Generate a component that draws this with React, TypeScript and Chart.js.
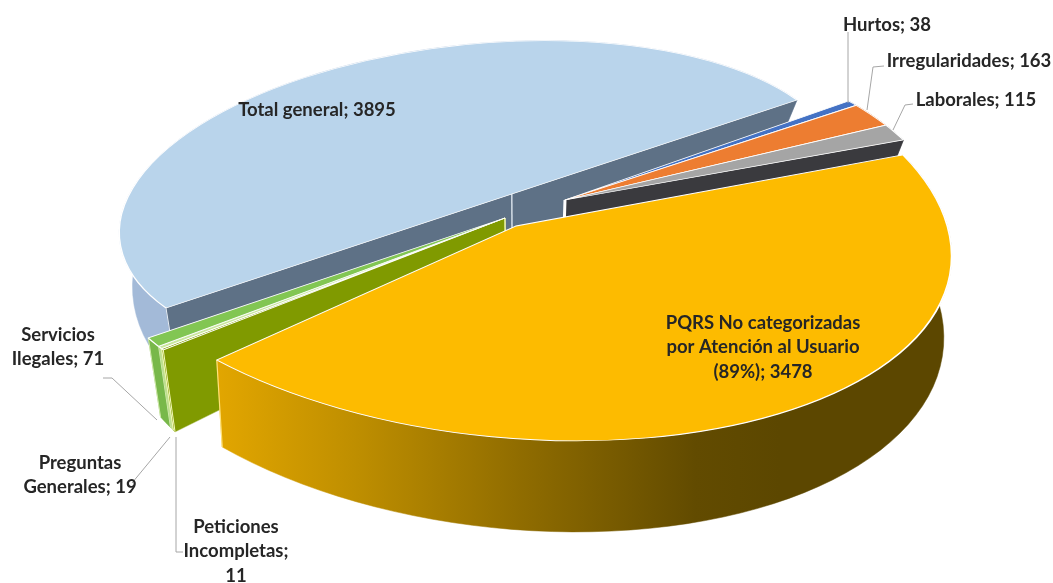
import React, { useEffect, useRef } from "react";
import { Chart, registerables } from "chart.js";

Chart.register(...registerables);

const categories = [
  "Total general",
  "Hurtos",
  "Irregularidades",
  "Laborales",
  "PQRS No categorizadas por Atención al Usuario (89%)",
  "Peticiones Incompletas",
  "Preguntas Generales",
  "Servicios Ilegales",
];
const values = [3895, 38, 163, 115, 3478, 11, 19, 71];
const topColors = ["#B9D4EB", "#4472C4", "#ED7D31", "#A5A5A5", "#FDBB00", "#85A000", "#C9E79C", "#82C653"];
const wallColors = ["#A3BAD8", "#2F5597", "#B85F20", "#7C7C7C", "gradient", "#7F9A00", "#BFE08E", "#78B84A"];
const edgeColors = ["#E6EDF5", "#FFFFFF", "#FFFFFF", "#FFFFFF", "#FFE27A", "#F3F8B8", "#F3F8B8", "#CFE8A8"];

// Each exploded group of slices has its own projected frame (apex, radial and tangent axes).
const frames = [
  { slices: [0], apex: [481.5, 204], radial: [-178, -126], tangent: [315.5, -104], depth: [22, 0.24, 100], lean: 0.033 },
  { slices: [1, 2, 3], apex: [565, 200], radial: [313.5, -80.2], tangent: [216.5, 153.5], depth: [22, 0.24, 100], lean: 0.033 },
  { slices: [5, 6, 7], apex: [505, 218], radial: [-349.5, 126], tangent: [-184, -147], depth: [22, 0.24, 100], lean: 0.033 },
  { slices: [4], apex: [516, 226], radial: [262, 188], tangent: [-348, 104], depth: [87, 0.05, 360], lean: 0.018 },
];

const textBlocks = [
  { lines: ["Hurtos; 38"], x: 887, y: 25 },
  { lines: ["Irregularidades; 163"], x: 969, y: 61 },
  { lines: ["Laborales; 115"], x: 976, y: 100 },
  { lines: ["Total general; 3895"], x: 317, y: 110 },
  { lines: ["PQRS No categorizadas", "por Atención al Usuario", "(89%); 3478"], x: 763, y: 323 },
  { lines: ["Servicios", "Ilegales; 71"], x: 58, y: 335 },
  { lines: ["Preguntas", "Generales; 19"], x: 80, y: 463 },
  { lines: ["Peticiones", "Incompletas;", "11"], x: 236, y: 527 },
];
const leaders = [
  [[848, 32], [848, 103]],
  [[884, 66], [873, 67], [867, 110]],
  [[913, 104], [905, 105], [893, 130]],
  [[103, 378], [112, 378], [157, 420]],
  [[132, 483], [170, 437]],
  [[183, 552], [176, 552], [176, 437]],
];

type P = [number, number];

const pie3d = {
  id: "pie3d",
  beforeDatasetDraw(chart: any) {
    const ctx: CanvasRenderingContext2D = chart.ctx;
    const arcs = chart.getDatasetMeta(0).data;
    const grad = ctx.createLinearGradient(217, 0, 780, 0);
    grad.addColorStop(0, "#E2A600");
    grad.addColorStop(0.25, "#BE8E00");
    grad.addColorStop(0.55, "#8E6B00");
    grad.addColorStop(0.85, "#624B00");
    grad.addColorStop(1, "#5C4700");

    frames.forEach((f) => {
      const lower = (p: P): P => {
        const d = Math.min(96, f.depth[0] + f.depth[1] * (p[1] - f.depth[2]));
        return [p[0] + (520 - p[0]) * f.lean, p[1] + d];
      };
      const first = arcs[f.slices[0]];
      const last = arcs[f.slices[f.slices.length - 1]];
      const start = first.startAngle;
      const end = last.endAngle;
      const mid = (start + end) / 2;
      const at = (phi: number): P => [
        f.apex[0] + f.radial[0] * Math.cos(phi - mid) + f.tangent[0] * Math.sin(phi - mid),
        f.apex[1] + f.radial[1] * Math.cos(phi - mid) + f.tangent[1] * Math.sin(phi - mid),
      ];
      const poly = (pts: P[], fill: any) => {
        ctx.beginPath();
        pts.forEach((p, i) => (i ? ctx.lineTo(p[0], p[1]) : ctx.moveTo(p[0], p[1])));
        ctx.closePath();
        ctx.fillStyle = fill;
        ctx.fill();
        ctx.strokeStyle = fill;
        ctx.lineWidth = 0.5;
        ctx.stroke();
      };
      const seam = (p: P, color: string, width: number) => {
        const b = lower(p);
        ctx.beginPath();
        ctx.moveTo(p[0], p[1]);
        ctx.lineTo(b[0], b[1]);
        ctx.strokeStyle = color;
        ctx.lineWidth = width;
        ctx.stroke();
      };

      // outer walls
      f.slices.forEach((i) => {
        const a = arcs[i];
        const top: P[] = [];
        for (let k = 0; k <= 60; k++) top.push(at(a.startAngle + ((a.endAngle - a.startAngle) * k) / 60));
        const bottom = top.map(lower).reverse();
        poly([...top, ...bottom], wallColors[i] === "gradient" ? grad : wallColors[i]);
      });

      // flat cut faces revealed by the explosion
      const A = f.apex as P;
      if (f.slices[0] === 0) {
        const l = at(start);
        const r = at(end);
        poly([l, r, lower(r), lower(l)], "#5E7186");
        const s = 0.548;
        seam([l[0] + (r[0] - l[0]) * s, l[1] + (r[1] - l[1]) * s], "#D5DEE8", 1.5);
        seam(l, edgeColors[0], 1);
      }
      if (f.slices[0] === 1) {
        const r = at(end);
        poly([A, r, lower(r), lower(A)], "#3A3A3E");
        seam(A, "#FFFFFF", 3);
      }
      if (f.slices[0] === 5) {
        const l = at(start);
        poly([A, l, lower(l), lower(A)], "#809A00");
        seam(A, "#F3F8B8", 1.5);
        f.slices.forEach((i) => {
          seam(at(arcs[i].startAngle), edgeColors[i], 1);
        });
        seam(at(end), edgeColors[7], 1);
      }
      if (f.slices[0] === 4) {
        seam(at(end), edgeColors[4], 1.2);
      }

      // top faces, drawn by the library's arc elements under the frame's projection
      const c = Math.cos(mid);
      const s = Math.sin(mid);
      const e1 = [f.radial[0] * c - f.tangent[0] * s, f.radial[1] * c - f.tangent[1] * s];
      const e2 = [f.radial[0] * s + f.tangent[0] * c, f.radial[1] * s + f.tangent[1] * c];
      f.slices.forEach((i) => {
        const a = arcs[i];
        const r = a.outerRadius;
        ctx.save();
        ctx.transform(
          e1[0] / r,
          e1[1] / r,
          e2[0] / r,
          e2[1] / r,
          f.apex[0] - (e1[0] * a.x + e2[0] * a.y) / r,
          f.apex[1] - (e1[1] * a.x + e2[1] * a.y) / r
        );
        a.draw(ctx);
        ctx.restore();
      });
    });
    return false;
  },
  afterDraw(chart: any) {
    const ctx: CanvasRenderingContext2D = chart.ctx;
    ctx.save();
    ctx.strokeStyle = "#A6A6A6";
    ctx.lineWidth = 1;
    leaders.forEach((l) => {
      ctx.beginPath();
      l.forEach((p, i) => (i ? ctx.lineTo(p[0], p[1]) : ctx.moveTo(p[0], p[1])));
      ctx.stroke();
    });
    ctx.fillStyle = "#262626";
    ctx.font = "bold 18.5px Lato";
    ctx.textAlign = "center";
    ctx.textBaseline = "middle";
    textBlocks.forEach((b) => {
      b.lines.forEach((t, i) => ctx.fillText(t, b.x, b.y + i * 24.5));
    });
    ctx.restore();
  },
};

export default function App() {
  const ref = useRef<HTMLCanvasElement>(null);
  useEffect(() => {
    const chart = new Chart(ref.current as HTMLCanvasElement, {
      type: "pie",
      data: {
        labels: categories,
        datasets: [
          {
            data: values,
            backgroundColor: topColors,
            borderColor: "#FFFFFF",
            borderWidth: 1.2,
            clip: false,
          } as any,
        ],
      },
      options: {
        responsive: false,
        animation: false,
        rotation: -124,
        plugins: { legend: { display: false }, tooltip: { enabled: false } },
      },
      plugins: [pie3d as any],
    });
    return () => chart.destroy();
  }, []);
  return (
    <canvas
      ref={ref}
      width={1053}
      height={583}
      style={{ position: "fixed", left: 0, top: 0, width: 1053, height: 583, background: "#FFFFFF", filter: "blur(0.4px)" }}
    />
  );
}
